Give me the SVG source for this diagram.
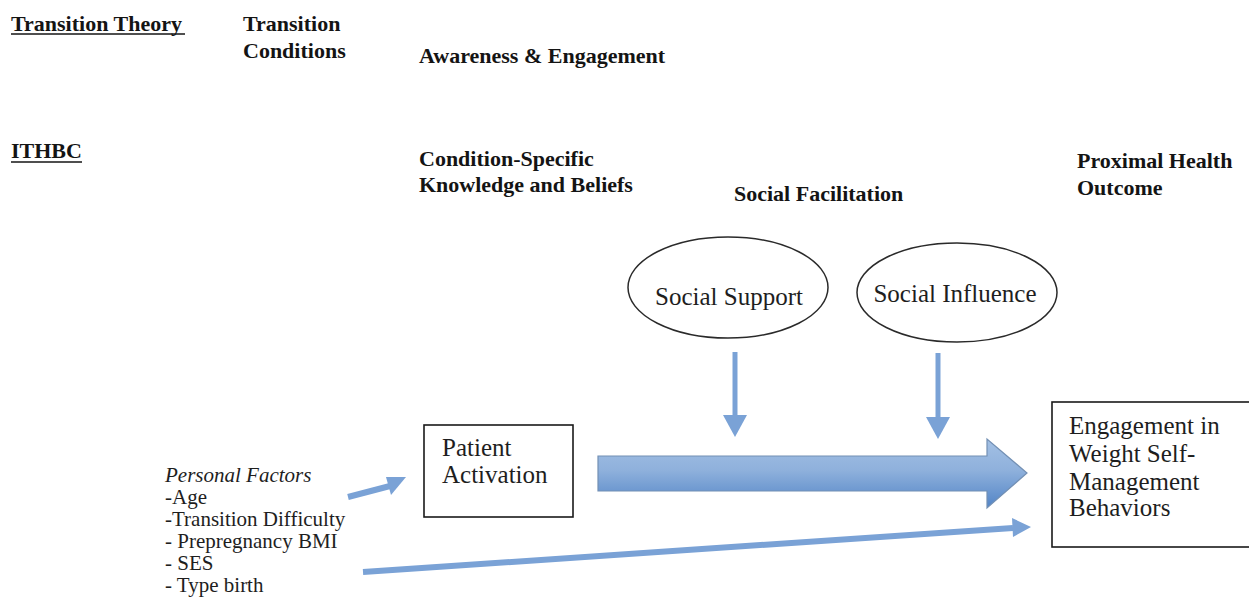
<svg xmlns="http://www.w3.org/2000/svg" width="1249" height="614" viewBox="0 0 1249 614" font-family="Liberation Serif, Times New Roman, serif">
<defs>
<style>
.h{font-family:'Liberation Serif', serif;font-weight:bold;font-size:22px;fill:#141414}
.t{font-family:'Liberation Serif', serif;font-size:25px;fill:#1e1e1e}
.p{font-family:'Liberation Serif', serif;font-size:21px;fill:#1e1e1e}
.box{fill:#fff;stroke:#1a1a1a;stroke-width:1.6}
.ell{fill:#fff;stroke:#2a2a2a;stroke-width:1.5}
.ul{stroke:#141414;stroke-width:1.6}
.ln{stroke:#7aa2d6;stroke-width:6;fill:none}
.hd{fill:#7aa2d6}
</style>
<linearGradient id="bg" x1="0" y1="0" x2="0" y2="1">
<stop offset="0" stop-color="#a3c0e4"/>
<stop offset="0.45" stop-color="#8fb1dc"/>
<stop offset="1" stop-color="#5284c6"/>
</linearGradient>
</defs>
<rect width="1249" height="614" fill="#fff"/>

<g id="headings">
<text class="h" x="11" y="31">Transition Theory</text>
<line class="ul" x1="11" y1="34" x2="185" y2="34"/>
<text class="h" x="243" y="31">Transition</text>
<text class="h" x="243" y="58">Conditions</text>
<text class="h" x="419" y="63">Awareness &amp; Engagement</text>
<text class="h" x="11" y="158">ITHBC</text>
<line class="ul" x1="11" y1="162" x2="82" y2="162"/>
<text class="h" x="419" y="166">Condition-Specific</text>
<text class="h" x="419" y="192">Knowledge and Beliefs</text>
<text class="h" x="734" y="201">Social Facilitation</text>
<text class="h" x="1077" y="168">Proximal Health</text>
<text class="h" x="1077" y="195">Outcome</text>
</g>

<g id="connectors">
<polygon points="598,456 987,456 987,439 1027,473 987,508 987,491 598,491" fill="url(#bg)" stroke="#7390b4" stroke-width="1.2"/>
<line class="ln" x1="735" y1="352" x2="735" y2="418" style="stroke-width:5"/>
<polygon class="hd" points="723,415 747,415 735,437"/>
<line class="ln" x1="938" y1="353" x2="938" y2="420" style="stroke-width:5"/>
<polygon class="hd" points="926,417 950,417 938,439"/>
<line class="ln" x1="348" y1="497" x2="390" y2="486"/>
<polygon class="hd" points="386,477 391,495 406,477"/>
<line class="ln" x1="363" y1="572" x2="1013" y2="528"/>
<polygon class="hd" points="1012,518 1013,537 1031,527"/>
</g>

<g id="social-support">
<ellipse class="ell" cx="728" cy="287.5" rx="100" ry="50.5"/>
<text class="t" x="729" y="305" text-anchor="middle">Social Support</text>
</g>

<g id="social-influence">
<ellipse class="ell" cx="957" cy="292.5" rx="100" ry="49.5"/>
<text class="t" x="955" y="302" text-anchor="middle">Social Influence</text>
</g>

<g id="patient-activation">
<rect class="box" x="424" y="425" width="149" height="92"/>
<text class="t" x="442" y="456">Patient</text>
<text class="t" x="442" y="483">Activation</text>
</g>

<g id="engagement">
<rect class="box" x="1052" y="402" width="210" height="145"/>
<text class="t" x="1069" y="434">Engagement in</text>
<text class="t" x="1069" y="462">Weight Self-</text>
<text class="t" x="1069" y="490">Management</text>
<text class="t" x="1069" y="516">Behaviors</text>
</g>

<g id="personal-factors">
<text class="p" x="165" y="482" font-style="italic">Personal Factors</text>
<text class="p" x="165" y="504">-Age</text>
<text class="p" x="165" y="526">-Transition Difficulty</text>
<text class="p" x="165" y="548">- Prepregnancy BMI</text>
<text class="p" x="165" y="570">- SES</text>
<text class="p" x="165" y="592">- Type birth</text>
</g>
</svg>
